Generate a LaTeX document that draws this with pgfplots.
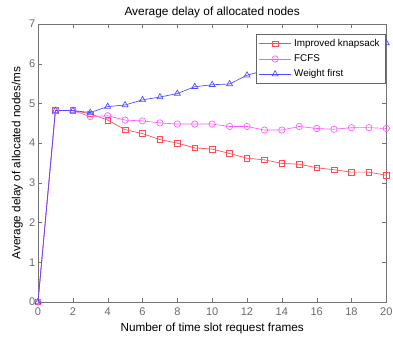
\documentclass[border=0pt]{standalone}
\usepackage{pgfplots}
\pgfplotsset{compat=1.18}
\usepackage{fontspec}
\setmainfont{Liberation Sans}
\definecolor{cred}{rgb}{1,0.3,0.3}
\definecolor{cmag}{rgb}{1,0.35,1}
\definecolor{cblue}{rgb}{0.3,0.3,1}
\definecolor{tickc}{rgb}{0.42,0.42,0.42}
\begin{document}
\begin{tikzpicture}
\begin{axis}[
  name=ax,
  scale only axis,
  width=261.25pt, height=208.5pt,
  xmin=0, xmax=20, ymin=0, ymax=7,
  xtick={0,2,...,20}, ytick={0,1,...,7},
  tick align=inside,
  major tick length=3pt,
  axis line style={black!55},
  tick style={black!55},
  every tick label/.append style={font=\fontsize{8.3}{9}\selectfont, text=tickc},
  /pgf/number format/assume math mode=true,
  xticklabel style={yshift=-1pt},
  yticklabel style={xshift=1.5pt},
  title={Average delay of allocated nodes},
  title style={font=\fontsize{8.9}{10}\selectfont, at={(axis description cs:0.5,1)}, anchor=center, yshift=3pt},
  xlabel={Number of time slot request frames},
  ylabel={Average delay of allocated nodes/ms},
  label style={font=\fontsize{8.8}{10}\selectfont},
  xlabel style={at={(axis description cs:0.5,0)}, anchor=center, yshift=-19.5pt},
  ylabel style={at={(axis description cs:0,0.5)}, anchor=center, yshift=15.5pt},
  legend style={at={(0.997,0.963)}, anchor=north east, font=\fontsize{7.4}{8}\selectfont,
    draw=black!60, inner xsep=2pt, inner ysep=1.5pt, row sep=0.6pt, cells={anchor=west}},
  legend cell align=left,
  legend image code/.code={\draw[mark repeat=2,mark phase=2] plot coordinates {(0pt,0pt) (12pt,0pt) (24pt,0pt)};},
  every axis plot/.append style={line width=0.5pt},
]
\addplot[cred, mark=square, mark size=2.1pt] coordinates {
(0,0) (1,4.82) (2,4.82) (3,4.74) (4,4.58) (5,4.34) (6,4.24) (7,4.09) (8,4.00) (9,3.88) (10,3.85)
(11,3.74) (12,3.62) (13,3.58) (14,3.49) (15,3.47) (16,3.38) (17,3.33) (18,3.27) (19,3.27) (20,3.19)};
\addlegendentry{Improved knapsack}
\addplot[cmag, mark=o, mark size=2.4pt] coordinates {
(0,0) (1,4.82) (2,4.82) (3,4.67) (4,4.69) (5,4.58) (6,4.56) (7,4.51) (8,4.48) (9,4.48) (10,4.48)
(11,4.42) (12,4.42) (13,4.33) (14,4.33) (15,4.42) (16,4.37) (17,4.35) (18,4.39) (19,4.39) (20,4.37)};
\addlegendentry{FCFS}
\addplot[cblue, mark=triangle, mark size=2.6pt] coordinates {
(0,0) (1,4.82) (2,4.82) (3,4.77) (4,4.92) (5,4.96) (6,5.09) (7,5.16) (8,5.25) (9,5.42) (10,5.47)
(11,5.49) (12,5.71) (13,5.83) (14,5.93) (15,6.02) (16,6.12) (17,6.23) (18,6.32) (19,6.42) (20,6.52)};
\addlegendentry{Weight first}
\end{axis}
\pgfresetboundingbox
\path ([shift={(-28.5pt,-27.75pt)}]ax.south west) rectangle ([shift={(5pt,18pt)}]ax.north east);
\end{tikzpicture}
\end{document}
